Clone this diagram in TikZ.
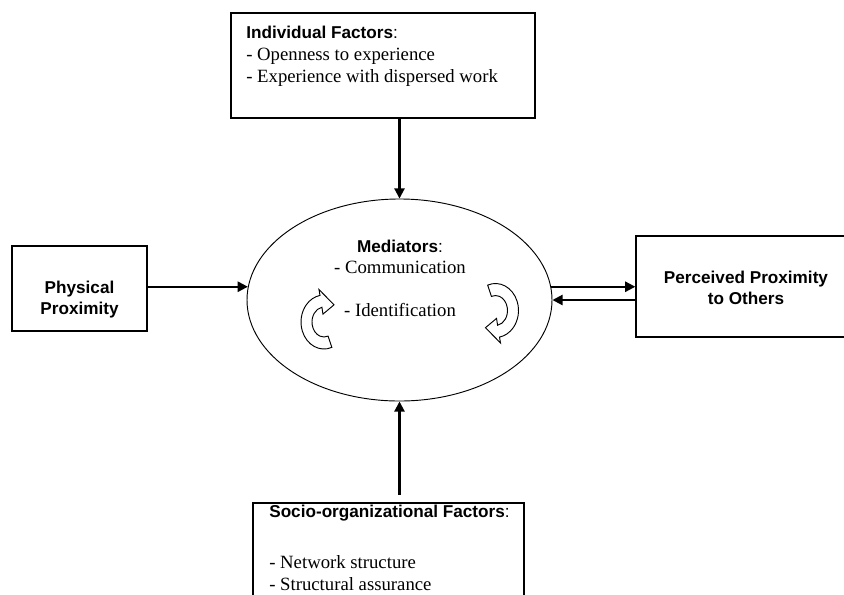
\documentclass[tikz,border=0pt]{standalone}
\usepackage{fontspec}
\setmainfont{Liberation Serif}
\setsansfont{Liberation Sans}
\usetikzlibrary{arrows.meta,shapes.geometric}

\newcommand{\factorhead}[1]{{\sffamily\bfseries\fontsize{11}{14}\selectfont #1\mdseries :}}

\begin{document}
\begin{tikzpicture}
[%%%%%%%%%%%%%%%%%%%%%%%%%%%%%%
x=0.641pt,y=-0.641pt,
box/.style={rectangle,draw=black,line width=0.9pt,inner sep=0pt},
blurb/.style={inner sep=0pt,align=left,font=\fontsize{12}{14}\selectfont},
head/.style={inner sep=0pt,align=center,font=\sffamily\bfseries\fontsize{11}{13.5}\selectfont},
link/.style={line width=1.3pt,-{Triangle[length=6.5pt,width=6.5pt]}},
turnarrow/.pic={
\draw[yscale=-1,line width=0.6pt,fill=white,line join=miter]
 (-70:23 and 27) arc[start angle=-70,end angle=-260,x radius=23,y radius=27]
 -- (100:29 and 33) -- (55:17.5 and 21) -- (100:6 and 8) -- (100:12 and 15)
 arc[start angle=100,end angle=290,x radius=12,y radius=15] -- cycle;
},
]%%%%%%%%%%%%%%%%%%%%%%%%%%%%%%

\useasboundingbox (0,0) rectangle (844,594);

\node[box,minimum width=194.9pt,minimum height=67.3pt] (indiv) at (383,65.5){};
\node[box,minimum width=86.5pt,minimum height=54.5pt] (phys) at (79.5,288.5){};
\node[draw=black,line width=0.6pt,ellipse,inner sep=0pt,minimum width=195.5pt,minimum height=129.5pt] (med) at (399.5,300){};
\node[box,minimum width=141pt,minimum height=64.7pt] (perc) at (746,286.5){};
\node[box,minimum width=173.7pt,minimum height=83.3pt] (socio) at (388.5,568){};

\node[blurb,anchor=north west] (indivText) at (246,26)
{\factorhead{Individual Factors}\\- Openness to experience\\- Experience with dispersed work};
\node[head] (physText) at (79.5,300){Physical\\Proximity};
\node[head] (percText) at (746,288){Perceived Proximity\\to Others};
\node[inner sep=0pt,align=center,font=\fontsize{12}{13}\selectfont,anchor=north] (medText) at (400,240)
{\factorhead{Mediators}\\- Communication\\[15pt]- Identification};
\node[blurb,anchor=north west] (socioText) at (269,505)
{\factorhead{Socio-organizational Factors}\\[18.5pt]- Network structure\\- Structural assurance};

\pic at (324,322) {turnarrow};
\pic[rotate=180] at (495.5,310.5) {turnarrow};

\draw[link] (indiv.south -| med.north) -- (med.north);
\draw[link] (med.175 -| phys.east) -- (med.175);
\draw[link] (med.5) -- (med.5 -| perc.west);
\draw[link] (perc.west |- med.east) -- (med.east);
\draw[link] ([yshift=5pt]socio.north -| med.south) -- (med.south);
\end{tikzpicture}
\end{document}
